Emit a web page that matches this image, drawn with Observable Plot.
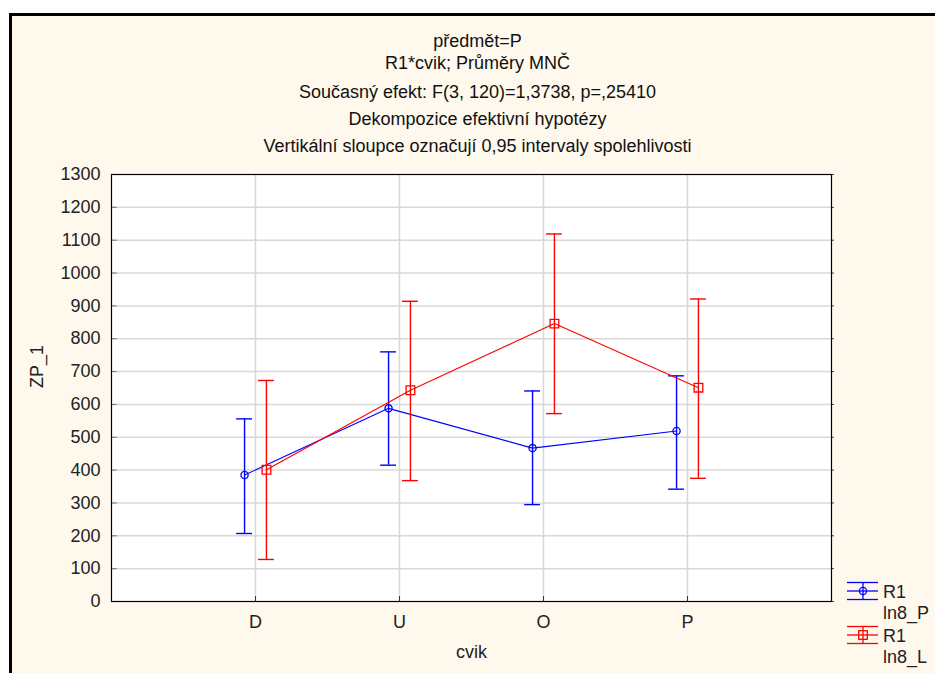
<!DOCTYPE html>
<html><head><meta charset="utf-8">
<script src="https://cdn.jsdelivr.net/npm/d3@7"></script>
<script src="https://cdn.jsdelivr.net/npm/@observablehq/plot@0.6"></script>
<style>
body{margin:0;background:#fff;}
#wrap{position:relative;width:935px;height:673px;overflow:hidden;background:#fff;font-family:"Liberation Sans",Arial,sans-serif;}
#panel{position:absolute;left:9px;top:13px;right:-5px;bottom:-5px;background:#fef9ec;border-left:3px solid #000;border-top:3px solid #000;}
#chart{position:absolute;left:0;top:0;}
</style></head><body>
<div id="wrap"><div id="panel"></div><div id="chart"></div></div>
<script>
// ---- data ----
const titleLines = [
  "předmět=P",
  "R1*cvik; Průměry MNČ",
  "Současný efekt: F(3, 120)=1,3738, p=,25410",
  "Dekompozice efektivní hypotézy",
  "Vertikální sloupce označují 0,95 intervaly spolehlivosti"
];
const xLabel = "cvik";
const yLabel = "ZP_1";
const categories = ["D", "U", "O", "P"];
const yTicks = [0, 100, 200, 300, 400, 500, 600, 700, 800, 900, 1000, 1100, 1200, 1300];
const legendFactor = "R1";
const seriesNames = ["ln8_P", "ln8_L"];
// series ln8_P (blue)
const meanP = [385, 588, 467, 519];
const lowP  = [207, 415, 295, 342];
const highP = [556, 760, 641, 687];
// series ln8_L (red)
const meanL = [401, 643, 846, 651];
const lowL  = [128, 368, 572, 375];
const highL = [673, 914, 1119, 921];

// ---- build rows ----
const rowsP = categories.map((c, i) => ({cat: c, idx: i + 1, mean: meanP[i], low: lowP[i], high: highP[i]}));
const rowsL = categories.map((c, i) => ({cat: c, idx: i + 1, mean: meanL[i], low: lowL[i], high: highL[i]}));
const catIdx = categories.map((c, i) => i + 1);

const BLUE = "#0000ff", RED = "#ff0000";
const FONT = "'Liberation Sans', Arial, sans-serif";
const off = 0.076, capW = 0.055;
const XP = d => d.idx - off;
const XL = d => d.idx + off;

function seriesMarks(rows, X, color, symbol, r) {
  return [
    Plot.line(rows, {x: X, y: "mean", stroke: color, strokeWidth: 1.1}),
    Plot.ruleX(rows, {x: X, y1: "low", y2: "high", stroke: color, strokeWidth: 1.4}),
    Plot.ruleY(rows, {y: "low", x1: d => X(d) - capW, x2: d => X(d) + capW, stroke: color, strokeWidth: 1.4}),
    Plot.ruleY(rows, {y: "high", x1: d => X(d) - capW, x2: d => X(d) + capW, stroke: color, strokeWidth: 1.4}),
    Plot.dot(rows, {x: X, y: "mean", symbol, r, stroke: color, fill: "none", strokeWidth: 1.3})
  ];
}

const titleDy = [-140, -118, -89, -62, -35];

const chart = Plot.plot({
  width: 935, height: 673,
  marginTop: 174, marginBottom: 72, marginLeft: 111, marginRight: 104,
  style: {background: "transparent", fontFamily: FONT, fontSize: "18px", color: "#222", overflow: "visible"},
  x: {domain: [0, 5]},
  y: {domain: [0, 1300]},
  marks: [
    Plot.frame({fill: "#ffffff", stroke: "none"}),
    Plot.ruleY(yTicks.slice(1, -1), {stroke: "#d8d8d8", strokeWidth: 1.5}),
    Plot.ruleX(catIdx, {stroke: "#d8d8d8", strokeWidth: 1.5}),
    Plot.ruleY(yTicks, {x1: 0, x2: 0.04, stroke: "#777", strokeWidth: 1}),
    Plot.ruleY(yTicks, {x1: 5, x2: 5.02, stroke: "#333", strokeWidth: 1}),
    Plot.ruleX(catIdx, {y1: 0, y2: 15, stroke: "#333", strokeWidth: 1}),
    Plot.frame({stroke: "#000", strokeWidth: 1.2}),
    Plot.axisY(yTicks, {tickSize: 0, tickPadding: 11, tickFormat: d => String(d), label: null, fill: "#222", fontSize: 18}),
    Plot.axisX(catIdx, {tickSize: 0, tickPadding: 14, tickFormat: d => categories[d - 1], label: null, fill: "#222", fontSize: 18}),
    ...seriesMarks(rowsP, XP, BLUE, "circle", 3.6),
    ...seriesMarks(rowsL, XL, RED, "square", 4.9),
    ...titleLines.map((t, i) => Plot.text([t], {frameAnchor: "top", dx: 6, dy: titleDy[i], fontSize: 18, fill: "#111"})),
    Plot.text([xLabel], {frameAnchor: "bottom", dy: 56, fontSize: 18, fill: "#222"}),
    Plot.text([yLabel], {frameAnchor: "left", dx: -74, rotate: -90, fontSize: 18, fill: "#222"})
  ]
});
document.getElementById("chart").appendChild(chart);

// ---- legend ----
const svg = d3.select(chart);
const lg = svg.append("g").attr("font-family", FONT).attr("font-size", 18).attr("fill", "#222").attr("text-anchor", "start");
const legendItems = [
  {name: seriesNames[0], color: BLUE, sym: "circle", cy: 591},
  {name: seriesNames[1], color: RED, sym: "square", cy: 635}
];
legendItems.forEach(it => {
  const g = lg.append("g").attr("stroke", it.color).attr("stroke-width", 1.3).attr("fill", "none");
  const x0 = 847, x1 = 878, xc = 863;
  [-8.5, 0, 8.5].forEach(o => g.append("line").attr("x1", x0).attr("x2", x1).attr("y1", it.cy + o).attr("y2", it.cy + o));
  g.append("line").attr("x1", xc).attr("x2", xc).attr("y1", it.cy - 8.5).attr("y2", it.cy + 8.5);
  if (it.sym === "circle") g.append("circle").attr("cx", xc).attr("cy", it.cy).attr("r", 3.6);
  else g.append("rect").attr("x", xc - 4.3).attr("y", it.cy - 4.3).attr("width", 8.6).attr("height", 8.6);
  lg.append("text").attr("x", 883).attr("y", it.cy + 1).attr("dy", "0.35em").text(legendFactor);
  lg.append("text").attr("x", 883).attr("y", it.cy + 22).attr("dy", "0.35em").text(it.name);
});
</script>
</body></html>
